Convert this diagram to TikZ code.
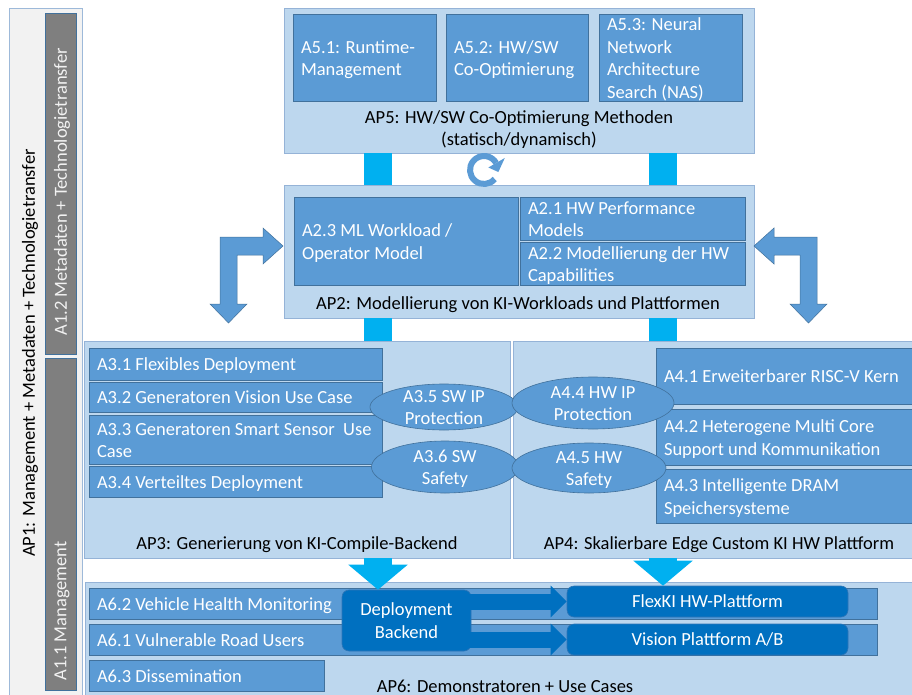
\documentclass[tikz,border=0pt]{standalone}
\usepackage{fontspec}
\setmainfont{Carlito}
\usetikzlibrary{shapes.geometric,arrows.meta,calc}
\definecolor{lightfill}{HTML}{BDD7EE}
\definecolor{lightdraw}{HTML}{95B3D7}
\definecolor{boxfill}{HTML}{5B9BD5}
\definecolor{boxdraw}{HTML}{41719C}
\definecolor{greyfill}{HTML}{7F7F7F}
\definecolor{aponefill}{HTML}{F2F2F2}
\definecolor{aponedraw}{HTML}{9DB9D9}
\definecolor{cyanc}{HTML}{00B0F0}
\definecolor{dblue}{HTML}{0070C0}
\definecolor{dbluedraw}{HTML}{2E75B6}

\newlength\twid
\newcommand\lines[1]{\makebox[\twid][l]{\smash{\raisebox{\dimexpr-0.25em-2pt\relax}{\begin{tabular}{@{}l@{}}#1\end{tabular}}}}}
\newcommand\ctr[1]{\makebox[0pt]{\smash{\raisebox{\dimexpr-0.25em-1.5pt\relax}{\begin{tabular}{@{}c@{}}#1\end{tabular}}}}}
\newcommand\mkbox[7]{%
 \pgfmathsetlengthmacro\bw{#4-#2}%
 \pgfmathsetlengthmacro\bh{#5-#3}%
 \pgfmathsetlength\twid{#4-#2-16}%
 \node[#6, minimum width=\bw, minimum height=\bh] (#1) at ({(#2+#4)/2},{(#3+#5)/2}) {#7};}

\tikzset{
 every node/.style={font=\fontsize{18.5}{22.6}\selectfont},
 container/.style={draw=lightdraw, fill=lightfill, line width=0.8pt, inner sep=0pt},
 sub/.style={draw=boxdraw, fill=boxfill, text=white, line width=0.6pt, inner xsep=8pt, inner ysep=0pt},
 ell/.style={ellipse, draw=boxdraw, fill=boxfill, text=white, line width=0.6pt, inner sep=0pt},
 dark/.style={rounded corners=7pt, draw=dbluedraw, fill=dblue, text=white, line width=0.6pt, inner sep=0pt},
 greybox/.style={draw=boxdraw, fill=greyfill, line width=0.6pt, inner sep=0pt},
 aponebox/.style={draw=aponedraw, fill=aponefill, line width=0.8pt, inner sep=0pt},
 lbl/.style={align=center, text=black, inner sep=0pt},
 cyanbar/.style={line width=28pt, draw=cyanc},
 cyanarrow/.style={line width=28pt, draw=cyanc, -{Triangle[length=25pt,width=58pt]}},
 darkarrow/.style={line width=16pt, draw=dblue, -{Triangle[length=16pt,width=31pt]}},
 bentarrow/.style={fill=boxfill, draw=boxdraw, line width=0.5pt, line join=miter},
}

\begin{document}
\begin{tikzpicture}[x=1pt, y=-1pt]
\fill[white] (0,0) rectangle (912,695);
\useasboundingbox (0,0) rectangle (912,695);

% AP1 column
\mkbox{ap1}{9}{8}{82}{705}{aponebox}{}
\mkbox{a12}{45}{13}{76}{354}{greybox}{}
\mkbox{a11}{45}{358}{76}{690}{greybox}{}
\node[rotate=90, text=black, inner sep=0pt] (ap1t) at (30,353) {AP1: Management + Metadaten + Technologietransfer};
\node[rotate=90, text=aponefill, inner sep=0pt] (a12t) at (62,192) {A1.2 Metadaten + Technologietransfer};
\node[rotate=90, text=aponefill, inner sep=0pt] (a11t) at (62,611) {A1.1 Management};

% coordinates for the cyan connectors
\coordinate (L) at (378,0);
\coordinate (R) at (663,0);

% containers
\mkbox{ap5}{284}{8}{754}{153}{container}{}
\mkbox{ap2}{284}{185}{754}{318}{container}{}
\mkbox{ap3}{84}{341}{510}{558}{container}{}
\mkbox{ap4}{513}{341}{925}{558}{container}{}
\mkbox{ap6}{85}{582}{925}{705}{container}{}

% cyan bars between containers
\draw[cyanbar] (L |- ap5.south) -- (L |- ap2.north);
\draw[cyanbar] (R |- ap5.south) -- (R |- ap2.north);
\draw[cyanbar] (L |- ap2.south) -- (L |- ap3.north);
\draw[cyanbar] (R |- ap2.south) -- (R |- ap4.north);

% AP5
\mkbox{a51}{293}{14}{436}{101}{sub}{\lines{A5.1: Runtime-\\Management}}
\mkbox{a52}{446}{14}{588}{101}{sub}{\lines{A5.2: HW/SW\\Co-Optimierung}}
\mkbox{a53}{599}{14}{742}{101}{sub}{\lines{A5.3: Neural\\Network\\Architecture\\Search (NAS)}}
\node[lbl] (ap5t) at (519,129.5) {AP5: HW/SW Co-Optimierung Methoden\\(statisch/dynamisch)};

% AP2
\mkbox{a23}{294}{197}{518}{285}{sub}{\lines{A2.3 ML Workload /\\Operator Model}}
\mkbox{a21}{520}{197}{745}{240}{sub}{\lines{A2.1 HW Performance\\Models}}
\mkbox{a22}{520}{242}{745}{285}{sub}{\lines{A2.2 Modellierung der HW\\Capabilities}}
\node[lbl] (ap2t) at (518,305) {AP2: Modellierung von KI-Workloads und Plattformen};

% AP3
\mkbox{a31}{89}{348}{382}{380}{sub}{\lines{A3.1 Flexibles Deployment}}
\mkbox{a32}{89}{382}{382}{412}{sub}{\lines{A3.2 Generatoren Vision Use Case}}
\mkbox{a33}{89}{415}{382}{464}{sub}{\lines{A3.3 Generatoren Smart Sensor~ Use\\Case}}
\mkbox{a34}{89}{466}{382}{497}{sub}{\lines{A3.4 Verteiltes Deployment}}
\node[lbl] (ap3t) at (297,545) {AP3: Generierung von KI-Compile-Backend};

% AP4
\mkbox{a41}{656}{348}{918}{404}{sub}{\lines{A4.1 Erweiterbarer RISC-V Kern}}
\mkbox{a42}{656}{409}{918}{465}{sub}{\lines{A4.2 Heterogene Multi Core\\Support und Kommunikation}}
\mkbox{a43}{656}{469}{918}{523}{sub}{\lines{A4.3 Intelligente DRAM\\Speichersysteme}}
\node[lbl] (ap4t) at (719,545) {AP4: Skalierbare Edge Custom KI HW Plattform};

% ellipses
\node[ell, minimum width=148pt, minimum height=46pt] (a35) at (444,407) {\ctr{A3.5 SW IP\\Protection}};
\node[ell, minimum width=147pt, minimum height=52pt] (a36) at (445,467) {\ctr{A3.6 SW\\Safety}};
\node[ell, minimum width=162pt, minimum height=52pt] (a44) at (593,403) {\ctr{A4.4 HW IP\\Protection}};
\node[ell, minimum width=154pt, minimum height=50pt] (a45) at (589,468) {\ctr{A4.5 HW\\Safety}};

% bent arrows beside AP2
\filldraw[bentarrow] (283,246) -- (263,228) -- (263,237) -- (220,237) -- (220,304) -- (210,304) -- (228.5,323) -- (247,304) -- (237,304) -- (237,255) -- (263,255) -- (263,264) -- cycle;
\filldraw[bentarrow] (754,246) -- (774,228) -- (774,237) -- (817,237) -- (817,304) -- (827,304) -- (808.5,323) -- (790,304) -- (800,304) -- (800,255) -- (774,255) -- (774,264) -- cycle;

% AP6
\mkbox{a62}{89}{588}{877}{619}{sub}{\lines{A6.2 Vehicle Health Monitoring}}
\mkbox{a61}{89}{624}{877}{655}{sub}{\lines{A6.1 Vulnerable Road Users}}
\mkbox{a63}{89}{660}{324}{691}{sub}{\lines{A6.3 Dissemination}}
\mkbox{db}{342}{590}{471}{651}{dark}{\ctr{Deployment\\Backend}}
\mkbox{flex}{567}{586}{848}{617}{dark}{\ctr{FlexKI HW-Plattform}}
\mkbox{vis}{567}{624}{848}{655}{dark}{\ctr{Vision Plattform A/B}}
\draw[darkarrow] ([xshift=-6pt]db.east |- flex.west) -- (flex.west);
\draw[darkarrow] ([xshift=-6pt]db.east |- vis.west) -- (vis.west);
\node[lbl] (ap6t) at (505,686) {AP6: Demonstratoren + Use Cases};

% cyan arrows into AP6
\draw[cyanarrow] (L |- ap3.south) -- (L |- db.north);
\draw[cyanarrow] (R |- ap4.south) -- (R |- flex.north);

% circular arrow between AP5 and AP2
\begin{scope}[shift={(484,170)}, y=1pt]
 \draw[line width=6pt, draw=boxfill] (-40:14) arc[start angle=-40, end angle=-330, radius=14];
 \fill[boxfill] (30:5) -- (30:24) -- (-8:14.5) -- cycle;
\end{scope}
\end{tikzpicture}
\end{document}
